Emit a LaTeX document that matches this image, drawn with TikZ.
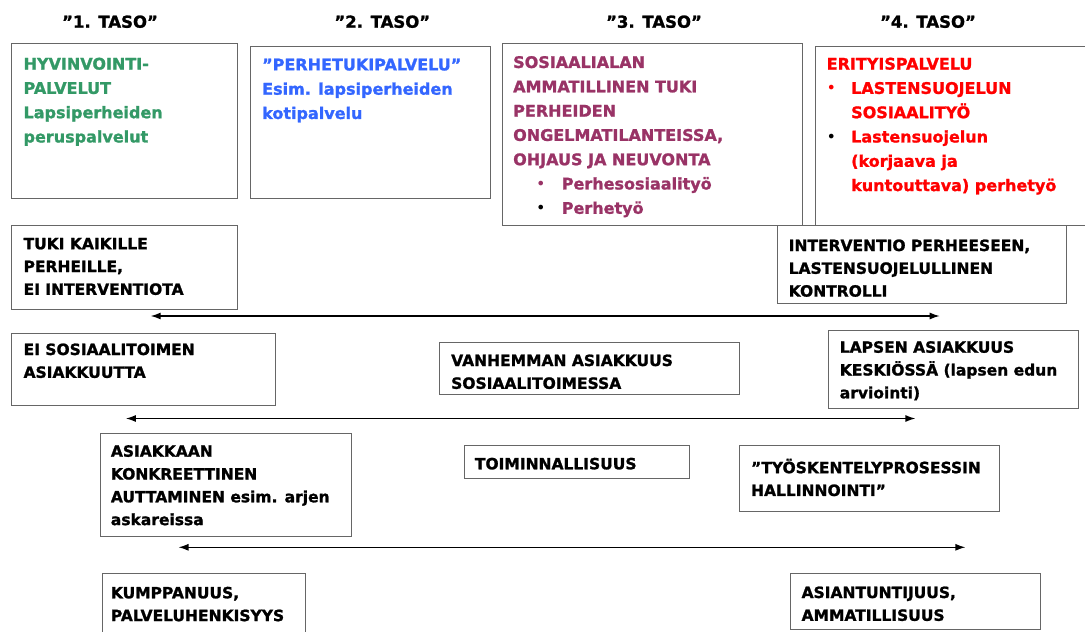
\documentclass[tikz,border=0pt]{standalone}
\usepackage{fontspec}
\setmainfont{DejaVu Sans}[BoldFont={DejaVu Sans Bold}, BoldFeatures={FakeBold=1.3}]
\usetikzlibrary{arrows.meta}

\definecolor{tgreen}{HTML}{339966}
\definecolor{tblue}{HTML}{3366FF}
\definecolor{tplum}{HTML}{993366}
\definecolor{tred}{HTML}{FF0000}

\newcommand{\bul}[2]{\makebox[#1pt][l]{#2}}

\begin{document}
\begin{tikzpicture}[x=1pt, y=-1pt,
    box/.style={draw=black!60, line width=0.9pt, anchor=north west, inner sep=0pt},
    toptxt/.style={anchor=north west, inner sep=0pt, align=left, font=\fontsize{16}{24.3}\selectfont\bfseries},
    txt/.style={anchor=north west, inner sep=0pt, align=left, font=\fontsize{15.5}{22.8}\selectfont\bfseries},
    head/.style={inner sep=0pt, font=\fontsize{16.5}{20}\selectfont\bfseries},
    dbl/.style={{Latex[length=10pt,width=7pt]}-{Latex[length=10pt,width=7pt]}, line width=1.3pt}]

    \useasboundingbox (0,0) rectangle (1085,632);
    \clip (0,0) rectangle (1085,632);

    % Levels
    \node[head] (h1) at (110,21.7) {”1. TASO”};
    \node[head] (h2) at (382.3,21.7) {”2. TASO”};
    \node[head] (h3) at (654,21.7) {”3. TASO”};
    \node[head] (h4) at (928,21.7) {”4. TASO”};

    % Services
    \node[box, minimum width=225.8, minimum height=155] (hyv) at (11.4,43.3) {};
    \node[box, minimum width=240.6, minimum height=152.6] (perhe) at (249.7,45.7) {};
    \node[box, minimum width=300, minimum height=181.7] (sos) at (502,43.3) {};
    \node[box, minimum width=290, minimum height=179.3] (eri) at (815.3,45.7) {};

    \node[toptxt, tgreen] (hyvt) at (23.4,57.5)
        {HYVINVOINTI-\\PALVELUT\\Lapsiperheiden\\peruspalvelut};
    \node[toptxt, tblue] (perhet) at (262,58.5)
        {”PERHETUKIPALVELU”\\Esim. lapsiperheiden\\kotipalvelu};
    \node[toptxt, tplum] (sost) at (513,55.9)
        {SOSIAALIALAN\\AMMATILLINEN TUKI\\PERHEIDEN\\ONGELMATILANTEISSA,\\OHJAUS JA NEUVONTA\\
         \hspace*{23pt}\bul{25.6}{\mdseries •}Perhesosiaalityö\\
         \hspace*{23pt}\bul{25.6}{\mdseries\color{black}•}Perhetyö};
    \node[toptxt, tred] (erit) at (826.5,57.5)
        {ERITYISPALVELU\\
         \bul{24.5}{\mdseries •}LASTENSUOJELUN\\
         \hspace*{24.5pt}SOSIAALITYÖ\\
         \bul{24.5}{\mdseries\color{black}•}Lastensuojelun\\
         \hspace*{24.5pt}(korjaava ja\\
         \hspace*{24.5pt}kuntouttava) perhetyö};

    % Intervention
    \node[box, minimum width=225.8, minimum height=84.3] (tuki) at (11.4,225) {};
    \node[box, minimum width=288.2, minimum height=78.3] (interv) at (777.4,225) {};
    \node[txt] (tukit) at (23.4,237.7) {TUKI KAIKILLE\\PERHEILLE,\\EI INTERVENTIOTA};
    \node[txt] (intervt) at (788.5,239.3) {INTERVENTIO PERHEESEEN,\\LASTENSUOJELULLINEN\\KONTROLLI};

    \coordinate (a1l) at (150.7,316);
    \coordinate (a1r) at (939.7,316);
    \draw[dbl] (a1l) -- (a1r);

    % Client relation
    \node[box, minimum width=263.4, minimum height=72.6] (eisos) at (11.4,332.7) {};
    \node[box, minimum width=299.7, minimum height=52] (vanh) at (439.3,342.3) {};
    \node[box, minimum width=250.2, minimum height=77.7] (lapsen) at (827.8,330) {};
    \node[txt] (eisost) at (23.4,343.3) {EI SOSIAALITOIMEN\\ASIAKKUUTTA};
    \node[txt] (vanht) at (451,354.3) {VANHEMMAN ASIAKKUUS\\SOSIAALITOIMESSA};
    \node[txt] (lapsent) at (839.6,341) {LAPSEN ASIAKKUUS\\KESKIÖSSÄ (lapsen edun\\arviointi)};

    \coordinate (a2l) at (125.9,418.5);
    \coordinate (a2r) at (915.4,418.5);
    \draw[dbl] (a2l) -- (a2r);

    % Way of working
    \node[box, minimum width=250.2, minimum height=103.6] (asiak) at (100.3,432.7) {};
    \node[box, minimum width=225.6, minimum height=33.3] (toimin) at (463.7,445) {};
    \node[box, minimum width=259.6, minimum height=66] (tyosk) at (739,445) {};
    \node[txt] (asiakt) at (110.7,445) {ASIAKKAAN\\KONKREETTINEN\\AUTTAMINEN esim. arjen\\askareissa};
    \node[txt] (toimint) at (474.7,457.6) {TOIMINNALLISUUS};
    \node[txt] (tyoskt) at (750.9,458.6) {”TYÖSKENTELYPROSESSIN\\HALLINNOINTI”};

    \coordinate (a3l) at (178.5,547.3);
    \coordinate (a3r) at (965.4,547.3);
    \draw[dbl] (a3l) -- (a3r);

    % Role
    \node[box, minimum width=202.8, minimum height=77] (kumpp) at (101.7,572.7) {};
    \node[box, minimum width=250.4, minimum height=56.6] (asiant) at (789.6,572.7) {};
    \node[txt] (kumppt) at (110.7,586.6) {KUMPPANUUS,\\PALVELUHENKISYYS};
    \node[txt] (asiantt) at (801.4,586.3) {ASIANTUNTIJUUS,\\AMMATILLISUUS};

\end{tikzpicture}
\end{document}
